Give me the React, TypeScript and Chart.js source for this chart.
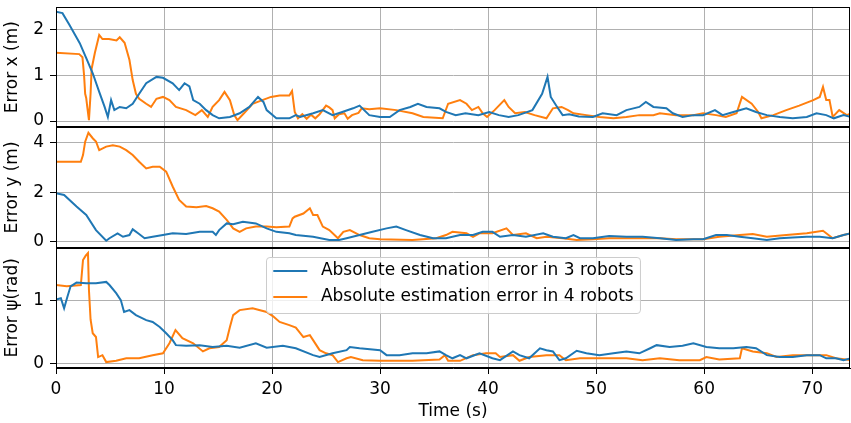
import React, { useEffect, useRef } from 'react';
import { Chart, registerables } from 'chart.js';

Chart.register(...registerables);

// ---------- labels & ticks ----------
const seriesLabels = ['Absolute estimation error in 3 robots', 'Absolute estimation error in 4 robots'];
const panelTitles = ['Error x (m)', 'Error y (m)', 'Error \u03c8(rad)'];
const timeTicks = [0, 10, 20, 30, 40, 50, 60, 70];
const xErrTicks = [0, 1, 2];
const yErrTicks = [0, 2, 4];
const psiErrTicks = [0, 1];
const timeTitle = 'Time (s)';

// ---------- Error x : 3 robots ----------
const x3T = [0, 0.6, 1.25, 2.2, 2.8, 3.4, 4.0, 4.5, 4.8, 5.1, 5.4, 5.9, 6.5, 7.1, 7.7, 8.35, 9.3, 9.9, 10.8, 11.4, 11.9, 12.35, 12.7, 13.3, 13.9, 14.5, 15.1, 16.1, 17.0, 17.9, 18.7, 19.2, 19.5, 20.4, 21.6, 22.2, 22.6, 23.8, 24.7, 25.6, 26.5, 27.5, 28.1, 29.0, 30.0, 30.9, 31.8, 32.8, 33.5, 34.3, 35.5, 36.1, 37.0, 37.9, 39.1, 40.1, 41.0, 41.9, 42.8, 44.1, 45.0, 45.5, 45.8, 46.3, 46.9, 47.5, 48.4, 49.7, 50.6, 51.9, 52.8, 54.0, 54.6, 55.3, 56.5, 57.1, 58.0, 59.0, 59.9, 61.0, 61.7, 62.7, 63.9, 64.8, 65.8, 67.0, 68.2, 69.5, 70.4, 71.3, 72.0, 72.9, 73.6];
const x3V = [2.40, 2.37, 2.11, 1.71, 1.38, 1.05, 0.64, 0.31, 0.09, 0.46, 0.24, 0.31, 0.28, 0.38, 0.60, 0.83, 0.97, 0.95, 0.83, 0.68, 0.83, 0.76, 0.46, 0.38, 0.24, 0.13, 0.06, 0.09, 0.17, 0.31, 0.53, 0.42, 0.24, 0.06, 0.06, 0.13, 0.09, 0.17, 0.24, 0.13, 0.20, 0.28, 0.34, 0.13, 0.09, 0.09, 0.24, 0.31, 0.38, 0.31, 0.28, 0.20, 0.13, 0.17, 0.13, 0.20, 0.13, 0.09, 0.13, 0.24, 0.60, 0.97, 0.53, 0.34, 0.13, 0.15, 0.10, 0.09, 0.17, 0.13, 0.24, 0.31, 0.42, 0.31, 0.28, 0.17, 0.09, 0.13, 0.13, 0.24, 0.13, 0.20, 0.28, 0.20, 0.13, 0.09, 0.06, 0.09, 0.17, 0.13, 0.06, 0.13, 0.09];

// ---------- Error x : 4 robots ----------
const x4T = [0, 2.15, 2.45, 2.6, 2.7, 2.8, 2.9, 3.05, 3.2, 3.3, 3.6, 4.0, 4.3, 4.9, 5.6, 5.9, 6.35, 6.8, 7.1, 7.4, 7.7, 8.35, 8.8, 9.3, 9.9, 10.5, 11.1, 12.05, 12.9, 13.5, 14.05, 14.5, 15.1, 15.6, 16.1, 16.5, 16.8, 17.4, 18.2, 19.1, 19.9, 20.7, 21.6, 21.85, 22.1, 22.4, 22.8, 23.2, 23.6, 24.0, 24.4, 25.0, 25.3, 25.6, 25.8, 26.2, 26.7, 27.0, 27.4, 28.0, 28.3, 29.0, 30.0, 31.5, 33.0, 34.0, 35.8, 36.3, 37.4, 38.0, 38.5, 39.1, 39.5, 39.9, 40.6, 41.5, 41.9, 42.5, 43.4, 44.3, 45.4, 46.0, 46.8, 47.4, 47.9, 49.1, 50.3, 51.6, 52.8, 54.0, 55.3, 55.9, 57.4, 59.0, 59.9, 61.1, 62.0, 63.0, 63.5, 64.4, 65.0, 65.3, 66.4, 67.6, 68.8, 70.1, 70.7, 71.0, 71.3, 71.6, 71.9, 72.5, 73.2, 73.6];
const x4V = [1.50, 1.47, 1.40, 1.00, 0.60, 0.50, 0.30, 0.02, 0.60, 1.15, 1.50, 1.89, 1.80, 1.80, 1.77, 1.84, 1.72, 1.34, 0.90, 0.60, 0.49, 0.38, 0.31, 0.49, 0.53, 0.46, 0.31, 0.24, 0.13, 0.24, 0.09, 0.31, 0.46, 0.64, 0.46, 0.13, 0.02, 0.17, 0.38, 0.46, 0.53, 0.56, 0.56, 0.66, 0.20, 0.06, 0.15, 0.05, 0.14, 0.06, 0.15, 0.34, 0.30, 0.24, 0.06, 0.15, 0.17, 0.05, 0.13, 0.18, 0.28, 0.26, 0.28, 0.24, 0.17, 0.09, 0.06, 0.38, 0.46, 0.38, 0.24, 0.31, 0.17, 0.09, 0.24, 0.46, 0.31, 0.17, 0.20, 0.13, 0.06, 0.28, 0.31, 0.24, 0.17, 0.13, 0.09, 0.06, 0.09, 0.13, 0.13, 0.17, 0.13, 0.13, 0.17, 0.13, 0.09, 0.17, 0.53, 0.38, 0.20, 0.06, 0.13, 0.24, 0.34, 0.46, 0.53, 0.75, 0.46, 0.46, 0.09, 0.24, 0.13, 0.17];

// ---------- Error y : 3 robots ----------
const y3T = [0, 0.75, 1.9, 2.8, 3.7, 4.65, 4.95, 5.7, 6.2, 6.8, 7.1, 7.6, 8.2, 8.95, 9.9, 10.8, 12.05, 13.3, 14.5, 14.8, 15.1, 15.8, 16.4, 17.3, 18.5, 19.5, 20.4, 21.6, 22.2, 23.8, 25.3, 26.2, 26.9, 28.1, 29.3, 30.6, 31.5, 32.4, 33.7, 34.9, 36.1, 37.4, 38.6, 39.5, 40.4, 41.1, 42.3, 43.5, 45.1, 46.0, 47.2, 47.9, 48.5, 49.7, 51.2, 52.8, 54.3, 55.9, 57.4, 59.0, 59.9, 61.1, 62.1, 63.3, 64.5, 65.8, 67.0, 68.2, 69.5, 70.7, 71.9, 72.9, 73.6];
const y3V = [1.96, 1.89, 1.42, 1.08, 0.47, 0.04, 0.14, 0.34, 0.20, 0.27, 0.50, 0.34, 0.14, 0.20, 0.27, 0.34, 0.31, 0.40, 0.40, 0.27, 0.47, 0.74, 0.71, 0.81, 0.74, 0.54, 0.40, 0.34, 0.27, 0.20, 0.07, 0.07, 0.14, 0.27, 0.40, 0.54, 0.61, 0.47, 0.27, 0.14, 0.14, 0.27, 0.27, 0.40, 0.40, 0.20, 0.27, 0.20, 0.34, 0.20, 0.14, 0.27, 0.14, 0.14, 0.23, 0.20, 0.20, 0.14, 0.07, 0.10, 0.10, 0.27, 0.27, 0.20, 0.14, 0.07, 0.14, 0.17, 0.20, 0.20, 0.14, 0.27, 0.34];

// ---------- Error y : 4 robots ----------
const y4T = [0, 2.3, 2.5, 2.7, 3.0, 3.4, 3.7, 4.0, 4.65, 5.26, 5.9, 6.5, 7.1, 7.7, 8.35, 8.95, 9.6, 10.2, 10.8, 11.4, 12.05, 13.0, 13.9, 14.5, 15.1, 15.8, 16.4, 17.0, 17.6, 18.5, 19.5, 20.4, 21.6, 21.9, 22.1, 22.9, 23.5, 23.8, 24.2, 24.7, 25.3, 26.1, 26.6, 27.2, 28.1, 29.0, 30.0, 33.0, 35.2, 36.1, 36.7, 38.0, 38.6, 39.2, 40.4, 41.7, 42.3, 43.5, 44.5, 45.4, 46.9, 48.2, 49.7, 51.2, 52.8, 55.9, 57.4, 59.9, 61.4, 63.3, 64.5, 65.8, 67.6, 69.5, 71.0, 71.9, 72.9, 73.6];
const y4V = [3.23, 3.23, 3.50, 4.04, 4.40, 4.18, 4.05, 3.70, 3.84, 3.90, 3.84, 3.70, 3.50, 3.23, 2.96, 3.03, 3.03, 2.83, 2.23, 1.69, 1.42, 1.39, 1.44, 1.35, 1.22, 0.88, 0.54, 0.40, 0.54, 0.61, 0.61, 0.58, 0.61, 0.94, 1.01, 1.14, 1.35, 1.08, 1.08, 0.61, 0.47, 0.14, 0.40, 0.47, 0.27, 0.14, 0.10, 0.07, 0.14, 0.27, 0.40, 0.34, 0.20, 0.34, 0.34, 0.54, 0.27, 0.34, 0.14, 0.20, 0.14, 0.07, 0.10, 0.14, 0.14, 0.14, 0.10, 0.10, 0.20, 0.27, 0.31, 0.20, 0.27, 0.34, 0.44, 0.14, 0.27, 0.34];

// ---------- Error psi : 3 robots ----------
const p3T = [0, 0.45, 0.75, 1.05, 1.35, 1.9, 2.8, 3.7, 4.65, 4.95, 5.57, 6.0, 6.3, 6.8, 7.4, 8.35, 8.95, 9.6, 10.2, 10.8, 11.1, 12.05, 13.3, 14.5, 15.8, 17.0, 18.5, 19.5, 21.0, 22.2, 23.8, 24.4, 25.6, 26.9, 27.2, 28.1, 29.3, 30.0, 30.6, 31.8, 33.0, 34.3, 35.5, 36.1, 36.7, 37.4, 38.0, 39.2, 40.4, 41.1, 42.3, 42.9, 43.8, 44.8, 45.4, 46.0, 46.6, 47.2, 48.2, 49.1, 50.3, 51.6, 52.8, 54.0, 55.0, 55.6, 56.8, 58.0, 59.0, 60.2, 61.4, 62.7, 63.9, 64.8, 65.8, 67.0, 68.2, 69.5, 70.7, 71.3, 72.2, 72.9, 73.6];
const p3V = [1.02, 1.04, 0.88, 1.06, 1.23, 1.29, 1.28, 1.28, 1.30, 1.25, 1.12, 1.01, 0.82, 0.85, 0.77, 0.69, 0.66, 0.58, 0.48, 0.37, 0.29, 0.28, 0.29, 0.26, 0.28, 0.25, 0.32, 0.25, 0.28, 0.24, 0.13, 0.10, 0.16, 0.21, 0.26, 0.24, 0.22, 0.21, 0.13, 0.13, 0.16, 0.16, 0.19, 0.13, 0.08, 0.13, 0.08, 0.16, 0.08, 0.05, 0.19, 0.13, 0.08, 0.24, 0.21, 0.19, 0.05, 0.08, 0.20, 0.16, 0.13, 0.16, 0.19, 0.16, 0.24, 0.29, 0.26, 0.28, 0.32, 0.26, 0.24, 0.24, 0.26, 0.24, 0.13, 0.10, 0.10, 0.13, 0.13, 0.08, 0.08, 0.05, 0.08];

// ---------- Error psi : 4 robots ----------
const p4T = [0, 1.0, 2.3, 2.5, 2.75, 2.96, 3.05, 3.2, 3.4, 3.7, 3.9, 4.3, 4.65, 5.57, 6.5, 7.7, 8.95, 9.9, 10.5, 11.06, 11.7, 12.7, 13.6, 14.2, 15.1, 15.8, 16.1, 16.4, 17.0, 18.2, 19.5, 20.1, 20.7, 21.6, 22.2, 22.9, 23.5, 23.8, 24.4, 25.0, 25.6, 26.1, 26.9, 27.3, 28.4, 30.0, 33.0, 35.5, 36.0, 36.3, 37.4, 38.6, 39.8, 40.7, 41.1, 42.3, 42.9, 43.8, 45.4, 46.6, 47.2, 48.5, 50.3, 52.8, 54.3, 55.9, 57.7, 59.6, 60.2, 61.4, 63.3, 63.5, 64.5, 65.8, 66.7, 68.2, 70.1, 71.3, 72.2, 73.6];
const p4V = [1.25, 1.23, 1.25, 1.65, 1.72, 1.76, 1.17, 0.70, 0.48, 0.42, 0.10, 0.13, 0.02, 0.04, 0.08, 0.08, 0.13, 0.16, 0.32, 0.53, 0.40, 0.32, 0.19, 0.24, 0.26, 0.37, 0.58, 0.77, 0.85, 0.88, 0.82, 0.75, 0.66, 0.61, 0.57, 0.42, 0.45, 0.37, 0.21, 0.16, 0.13, 0.02, 0.08, 0.10, 0.05, 0.04, 0.04, 0.06, 0.13, 0.04, 0.04, 0.13, 0.16, 0.16, 0.10, 0.13, 0.04, 0.10, 0.13, 0.13, 0.05, 0.08, 0.08, 0.08, 0.05, 0.08, 0.05, 0.05, 0.10, 0.06, 0.08, 0.24, 0.19, 0.16, 0.10, 0.13, 0.13, 0.13, 0.08, 0.05];

const BLUE = '#1f77b4';
const ORANGE = '#ff7f0e';
const FONT_FAMILY = "'DejaVu Sans', sans-serif";
const FS = 17;

const pts = (t: number[], v: number[]) => t.map((tt, i) => ({ x: tt, y: v[i] }));

const yAxis = (ticks: number[], min: number, max: number, title: string, weight: number) => ({
  type: 'linear' as const,
  position: 'left' as const,
  stack: 'panels',
  stackWeight: 1,
  weight,
  min,
  max,
  afterBuildTicks: (s: any) => {
    s.ticks = ticks.map((v) => ({ value: v }));
  },
  afterFit: (s: any) => {
    s.width = 56;
    s.paddingTop = 0;
    s.paddingBottom = 0;
  },
  grid: { color: '#b0b0b0', lineWidth: 1, tickColor: '#000', tickLength: 6, drawTicks: true },
  border: { color: '#000', width: 1 },
  ticks: { color: '#000', font: { family: FONT_FAMILY, size: FS }, padding: 6 },
  title: {
    display: true,
    text: title,
    color: '#000',
    font: { family: FONT_FAMILY, size: FS },
    padding: { top: 2, bottom: 0 },
  },
});

const framePlugin = {
  id: 'panelFrames',
  afterDatasetsDraw(chart: any) {
    const { ctx, chartArea } = chart;
    ctx.save();
    ctx.strokeStyle = '#000';
    ctx.lineWidth = 1;
    ['yx', 'yy', 'ypsi'].forEach((id) => {
      const s = chart.scales[id];
      ctx.strokeRect(chartArea.left + 0.5, Math.round(s.top) + 0.5, chartArea.right - chartArea.left - 1, Math.round(s.bottom) - Math.round(s.top) - 1);
    });
    ctx.restore();
  },
};

const legendPlugin = {
  id: 'panelLegend',
  afterDraw(chart: any) {
    const { ctx, chartArea } = chart;
    const s = chart.scales.ypsi;
    ctx.save();
    ctx.font = `${FS}px ${FONT_FAMILY}`;
    const tw = Math.max(...seriesLabels.map((l) => ctx.measureText(l).width));
    const pad = 0.4 * FS;
    const hl = 2 * FS;
    const htp = 0.8 * FS;
    const w = 2 * pad + hl + htp + tw;
    const h = 56;
    const left = Math.round((chartArea.left + chartArea.right) / 2 - w / 2) + 0.5;
    const top = Math.round(s.top + 0.55 * FS) + 0.5;
    ctx.beginPath();
    if (ctx.roundRect) ctx.roundRect(left, top, w, h, 3.4);
    else ctx.rect(left, top, w, h);
    ctx.fillStyle = 'rgba(255,255,255,0.8)';
    ctx.fill();
    ctx.strokeStyle = '#cccccc';
    ctx.lineWidth = 1;
    ctx.stroke();
    const colors = [BLUE, ORANGE];
    seriesLabels.forEach((label, i) => {
      const cy = top + 13.5 + i * 26;
      ctx.strokeStyle = colors[i];
      ctx.lineWidth = 2;
      ctx.beginPath();
      ctx.moveTo(left + pad, cy);
      ctx.lineTo(left + pad + hl, cy);
      ctx.stroke();
      ctx.fillStyle = '#000';
      ctx.textBaseline = 'middle';
      ctx.textAlign = 'left';
      ctx.fillText(label, left + pad + hl + htp, cy);
    });
    ctx.restore();
  },
};

export default function App() {
  const ref = useRef<HTMLCanvasElement | null>(null);

  useEffect(() => {
    document.body.style.margin = '0';
    if (!ref.current) return;
    const lineDs = (label: string, color: string, data: any[], yAxisID: string) => ({
      label,
      data,
      yAxisID,
      xAxisID: 'x',
      borderColor: color,
      backgroundColor: color,
      borderWidth: 2,
      pointRadius: 0,
      tension: 0,
      fill: false,
    });
    const chart = new Chart(ref.current, {
      type: 'line',
      data: {
        datasets: [
          lineDs(seriesLabels[0], BLUE, pts(x3T, x3V), 'yx'),
          lineDs(seriesLabels[1], ORANGE, pts(x4T, x4V), 'yx'),
          lineDs(seriesLabels[0], BLUE, pts(y3T, y3V), 'yy'),
          lineDs(seriesLabels[1], ORANGE, pts(y4T, y4V), 'yy'),
          lineDs(seriesLabels[0], BLUE, pts(p3T, p3V), 'ypsi'),
          lineDs(seriesLabels[1], ORANGE, pts(p4T, p4V), 'ypsi'),
        ],
      },
      options: {
        animation: false,
        responsive: false,
        devicePixelRatio: 1,
        layout: { padding: { top: 7, right: 1, left: 0, bottom: 0 } },
        plugins: { legend: { display: false }, tooltip: { enabled: false } },
        scales: {
          x: {
            type: 'linear',
            position: 'bottom',
            min: 0,
            max: 73.5,
            afterBuildTicks: (s: any) => {
              s.ticks = timeTicks.map((v) => ({ value: v }));
            },
            afterFit: (s: any) => {
              s.height = 55;
              s.paddingLeft = 0;
              s.paddingRight = 0;
            },
            grid: { color: '#b0b0b0', lineWidth: 1, tickColor: '#000', tickLength: 6, drawTicks: true },
            border: { color: '#000', width: 1 },
            ticks: { color: '#000', font: { family: FONT_FAMILY, size: FS }, padding: 5, maxRotation: 0 },
            title: {
              display: true,
              text: timeTitle,
              color: '#000',
              font: { family: FONT_FAMILY, size: FS },
              padding: { top: 0, bottom: 1 },
            },
          },
          ypsi: yAxis(psiErrTicks, -0.075, 1.847, panelTitles[2], 1),
          yy: yAxis(yErrTicks, -0.24, 4.62, panelTitles[1], 2),
          yx: yAxis(xErrTicks, -0.138, 2.505, panelTitles[0], 3),
        } as any,
      },
      plugins: [framePlugin, legendPlugin],
    });
    return () => chart.destroy();
  }, []);

  return (
    <div style={{ width: 851, height: 423, position: 'relative', background: '#fff' }}>
      <canvas ref={ref} width={851} height={423} style={{ display: 'block' }} />
    </div>
  );
}
